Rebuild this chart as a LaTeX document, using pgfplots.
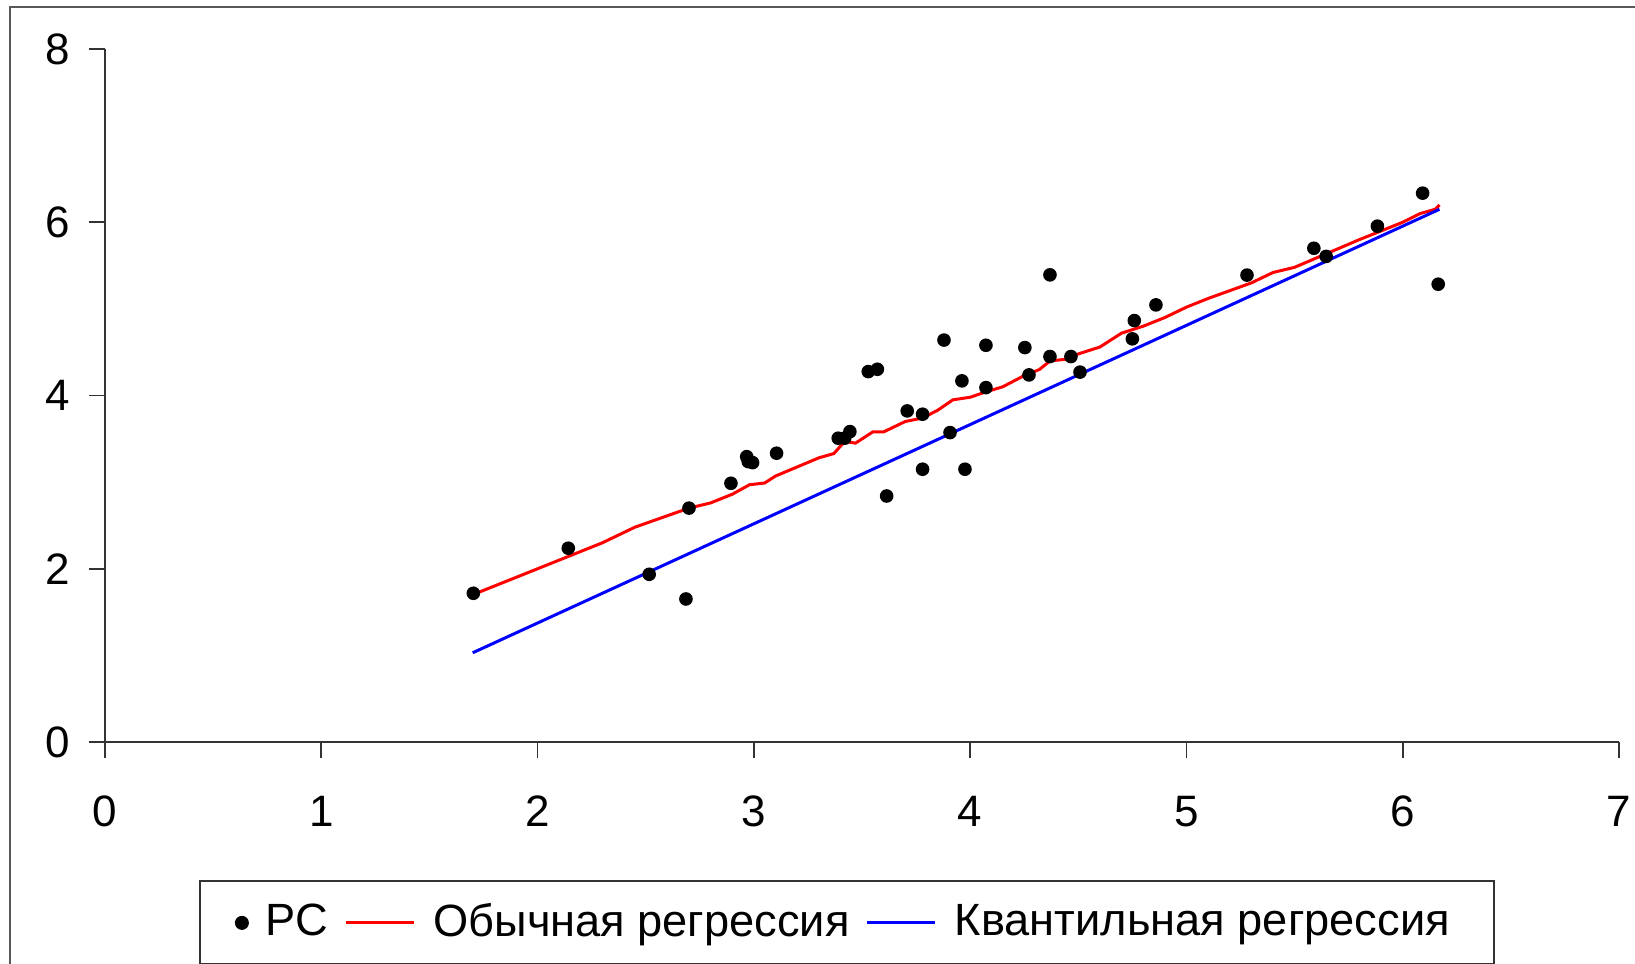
\documentclass[border=0pt]{standalone}
\usepackage{fontspec}
\setmainfont{Liberation Sans}
\usepackage{pgfplots}
\pgfplotsset{compat=1.18}
\begin{document}
\begin{tikzpicture}
\useasboundingbox (0pt,0pt) rectangle (408.75pt,240.75pt);
\draw[line width=0.6pt, black!65] (2.5pt,-20pt) rectangle (440pt,239pt);
\begin{axis}[
  at={(26.25pt,55.25pt)}, anchor=south west,
  scale only axis, width=378.5pt, height=173.25pt,
  xmin=0, xmax=7, ymin=0, ymax=8,
  axis lines=left,
  axis line style={-, line width=0.5pt, black!80},
  xtick={0,1,...,7}, ytick={0,2,...,8},
  tick align=outside, tick style={black!80, line width=0.4pt},
  major tick length=4pt,
  /pgf/number format/assume math mode=true,
  tick label style={font=\fontsize{11}{13}\selectfont},
  xticklabel style={yshift=-6pt},
  yticklabel style={xshift=-1.2pt},
  clip=false,
  legend columns=3,
  legend style={at={(0.49,-0.261)}, anchor=center, draw=black!80, line width=0.5pt,
    font=\fontsize{11.3}{13.5}\selectfont, inner xsep=9pt, inner ysep=3.5pt,
    /tikz/every odd column/.append style={column sep=2.5pt},
    /tikz/every even column/.append style={column sep=2pt}},
]
\addplot[only marks, mark=*, mark size=1.5pt, black] coordinates {
(1.703,1.717) (2.142,2.237) (2.516,1.936) (2.686,1.651) (2.700,2.700)
(2.894,2.987) (2.967,3.294) (2.974,3.237) (2.994,3.225) (3.105,3.334)
(3.390,3.507) (3.420,3.507) (3.444,3.583) (3.529,4.276) (3.571,4.303)
(3.614,2.840) (3.709,3.822) (3.780,3.784) (3.780,3.149) (3.879,4.640)
(3.907,3.572) (3.962,4.169) (3.976,3.149) (4.073,4.580) (4.073,4.091)
(4.253,4.553) (4.272,4.238) (4.369,5.393) (4.369,4.450) (4.466,4.450)
(4.508,4.270) (4.750,4.654) (4.759,4.865) (4.859,5.046) (5.280,5.390)
(5.589,5.700) (5.646,5.606) (5.883,5.955) (6.092,6.336) (6.164,5.285)
};
\addlegendentry{РС}
\addplot[red, line width=0.75pt] coordinates {
(1.70,1.70) (2.00,2.00) (2.30,2.30) (2.45,2.48) (2.70,2.70) (2.80,2.76)
(2.90,2.86) (2.98,2.97) (3.05,2.99) (3.10,3.07) (3.30,3.28) (3.37,3.33)
(3.42,3.47) (3.47,3.45) (3.55,3.58) (3.60,3.58) (3.70,3.70) (3.78,3.74)
(3.85,3.83) (3.92,3.95) (4.00,3.98) (4.07,4.04) (4.15,4.10) (4.25,4.23)
(4.32,4.30) (4.37,4.40) (4.45,4.42) (4.50,4.48) (4.60,4.56) (4.70,4.72)
(4.80,4.80) (4.90,4.90) (5.00,5.02) (5.10,5.12) (5.30,5.30) (5.40,5.42)
(5.50,5.48) (5.65,5.64) (5.80,5.80) (6.00,6.00) (6.08,6.10) (6.15,6.15)
(6.17,6.20)
};
\addlegendentry{Обычная регрессия}
\addplot[blue, line width=0.75pt] coordinates {
(1.70,1.03) (6.17,6.15)
};
\addlegendentry{Квантильная регрессия}
\end{axis}
\end{tikzpicture}
\end{document}
